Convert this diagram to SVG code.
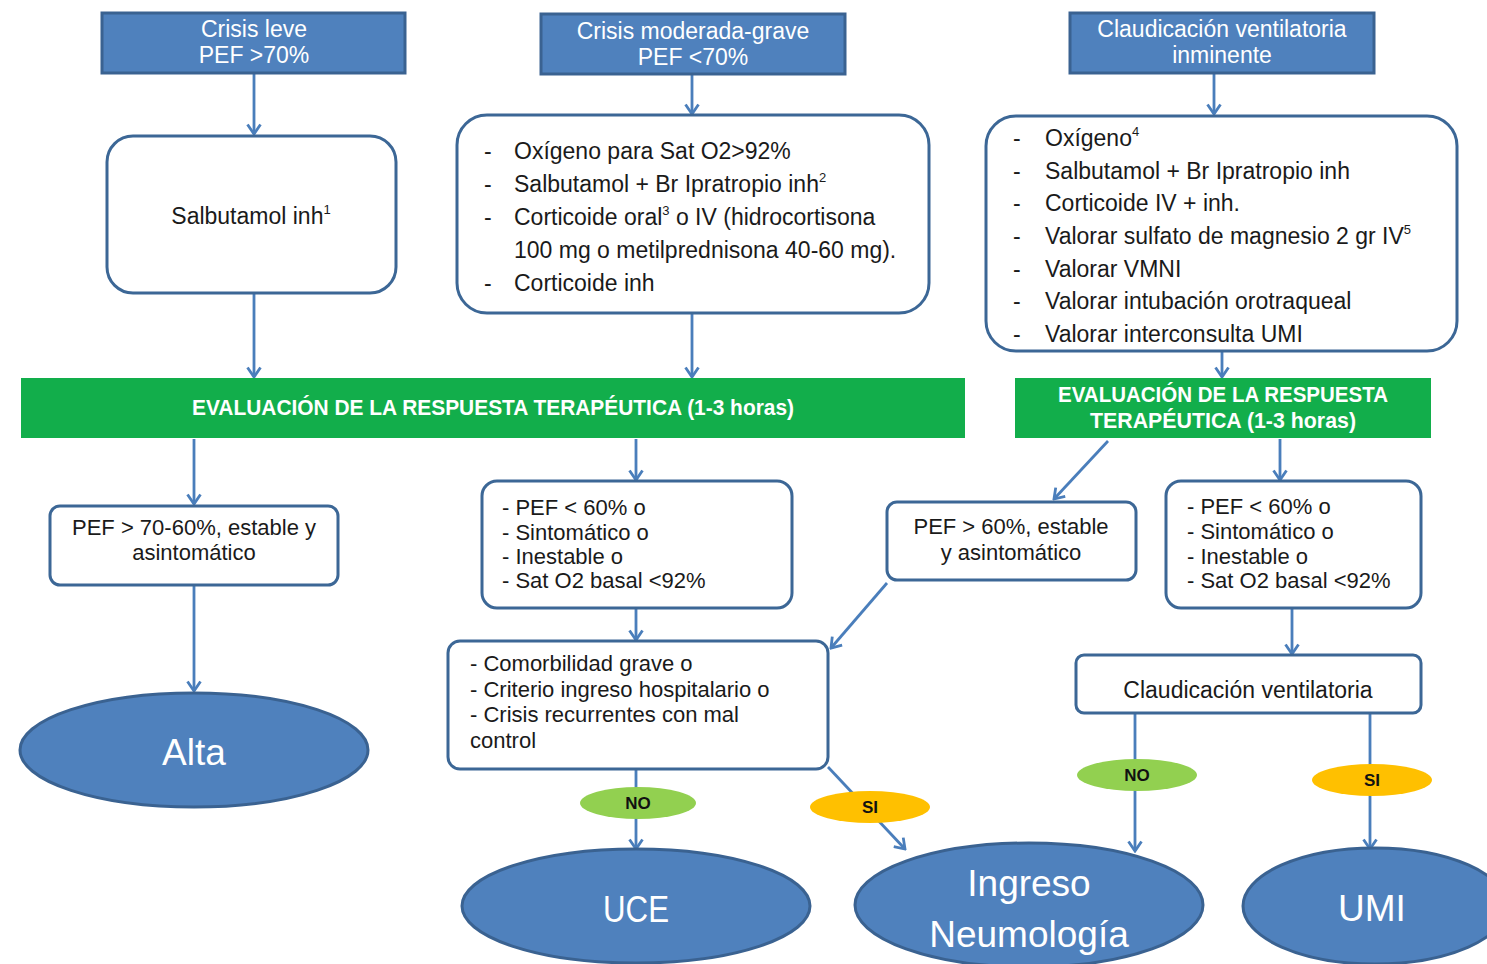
<svg xmlns="http://www.w3.org/2000/svg" width="1487" height="964" viewBox="0 0 1487 964">
<defs>
<marker id="arr" markerUnits="userSpaceOnUse" markerWidth="16" markerHeight="16" viewBox="0 0 16 16" refX="14" refY="8" orient="auto">
<path d="M4.5,1.5 L14,8 L4.5,14.5" fill="none" stroke="#4A7EBB" stroke-width="2.8" stroke-linejoin="miter"/>
</marker>
</defs>
<style>
text{font-family:"Liberation Sans",Arial,sans-serif;}
.hdr{fill:#4F81BD;stroke:#3A6291;stroke-width:3;}
.hdrt{fill:#ffffff;font-size:23px;text-anchor:middle;}
.box{fill:#ffffff;stroke:#3C6796;stroke-width:3;}
.bt{fill:#1a1a1a;font-size:22px;}
.bt23{fill:#1a1a1a;font-size:23px;}
.btc{fill:#1a1a1a;font-size:22px;text-anchor:middle;}
.green{fill:#12AE4B;}
.gt{fill:#ffffff;font-size:22px;font-weight:bold;text-anchor:middle;}
.ell{fill:#4F81BD;stroke:#3A6291;stroke-width:3;}
.et{fill:#ffffff;font-size:37px;text-anchor:middle;}
.no{fill:#92D050;}
.si{fill:#FFC000;}
.lt{fill:#111111;font-size:17px;font-weight:bold;text-anchor:middle;}
.conn{fill:none;stroke:#4A7EBB;stroke-width:2.8;marker-end:url(#arr);}
.sup{font-size:13px;}
</style>

<g id="connectors">
<line class="conn" x1="254" y1="73" x2="254" y2="134"/>
<line class="conn" x1="692" y1="74" x2="692" y2="114"/>
<line class="conn" x1="1214" y1="73" x2="1214" y2="114"/>
<line class="conn" x1="254" y1="293" x2="254" y2="377"/>
<line class="conn" x1="692" y1="313" x2="692" y2="377"/>
<line class="conn" x1="1222" y1="352" x2="1222" y2="377"/>
<line class="conn" x1="194" y1="439" x2="194" y2="504"/>
<line class="conn" x1="636" y1="439" x2="636" y2="480"/>
<line class="conn" x1="1108" y1="441" x2="1054" y2="499"/>
<line class="conn" x1="1280" y1="439" x2="1280" y2="480"/>
<line class="conn" x1="194" y1="585" x2="194" y2="691"/>
<line class="conn" x1="636" y1="608" x2="636" y2="640"/>
<line class="conn" x1="887" y1="583" x2="831" y2="648"/>
<line class="conn" x1="1292" y1="608" x2="1292" y2="654"/>
<line class="conn" x1="636" y1="769" x2="636" y2="849"/>
<line class="conn" x1="828" y1="767" x2="905" y2="849"/>
<line class="conn" x1="1135" y1="713" x2="1135" y2="851"/>
<line class="conn" x1="1370" y1="713" x2="1370" y2="849"/>
</g>

<g id="crisis-leve">
<rect class="hdr" x="102" y="13" width="303" height="60"/>
<text class="hdrt" x="254" y="37">Crisis leve</text>
<text class="hdrt" x="254" y="63">PEF &gt;70%</text>
</g>
<g id="crisis-moderada">
<rect class="hdr" x="541" y="14" width="304" height="60"/>
<text class="hdrt" x="693" y="39">Crisis moderada-grave</text>
<text class="hdrt" x="693" y="65">PEF &lt;70%</text>
</g>
<g id="claudicacion-inminente">
<rect class="hdr" x="1070" y="13" width="304" height="60"/>
<text class="hdrt" x="1222" y="37">Claudicación ventilatoria</text>
<text class="hdrt" x="1222" y="63">inminente</text>
</g>

<g id="salbutamol">
<rect class="box" x="107" y="136" width="289" height="157" rx="26"/>
<text class="btc" x="251" y="224" style="font-size:23px">Salbutamol inh<tspan class="sup" dy="-10">1</tspan></text>
</g>
<g id="tratamiento-moderada">
<rect class="box" x="457" y="115" width="472" height="198" rx="30"/>
<text class="bt23" x="484" y="159">-</text>
<text class="bt23" x="484" y="192">-</text>
<text class="bt23" x="484" y="225">-</text>
<text class="bt23" x="484" y="291">-</text>
<text class="bt23" x="514" y="159">Oxígeno para Sat O2&gt;92%</text>
<text class="bt23" x="514" y="192">Salbutamol + Br Ipratropio inh<tspan class="sup" dy="-10">2</tspan></text>
<text class="bt23" x="514" y="225">Corticoide oral<tspan class="sup" dy="-10">3</tspan><tspan dy="10"> o IV (hidrocortisona</tspan></text>
<text class="bt23" x="514" y="258">100 mg o metilprednisona 40-60 mg).</text>
<text class="bt23" x="514" y="291">Corticoide inh</text>
</g>
<g id="tratamiento-claudicacion">
<rect class="box" x="986" y="116" width="471" height="235" rx="30"/>
<text class="bt23" x="1013" y="146">-</text>
<text class="bt23" x="1013" y="179">-</text>
<text class="bt23" x="1013" y="211">-</text>
<text class="bt23" x="1013" y="244">-</text>
<text class="bt23" x="1013" y="277">-</text>
<text class="bt23" x="1013" y="309">-</text>
<text class="bt23" x="1013" y="342">-</text>
<text class="bt23" x="1045" y="146">Oxígeno<tspan class="sup" dy="-10">4</tspan></text>
<text class="bt23" x="1045" y="179">Salbutamol + Br Ipratropio inh</text>
<text class="bt23" x="1045" y="211">Corticoide IV + inh.</text>
<text class="bt23" x="1045" y="244">Valorar sulfato de magnesio 2 gr IV<tspan class="sup" dy="-10">5</tspan></text>
<text class="bt23" x="1045" y="277">Valorar VMNI</text>
<text class="bt23" x="1045" y="309">Valorar intubación orotraqueal</text>
<text class="bt23" x="1045" y="342">Valorar interconsulta UMI</text>
</g>

<g id="evaluacion-1">
<rect class="green" x="21" y="378" width="944" height="60"/>
<text class="gt" x="493" y="415" textLength="602" lengthAdjust="spacingAndGlyphs">EVALUACIÓN DE LA RESPUESTA TERAPÉUTICA (1-3 horas)</text>
</g>
<g id="evaluacion-2">
<rect class="green" x="1015" y="378" width="416" height="60"/>
<text class="gt" x="1223" y="402" textLength="330" lengthAdjust="spacingAndGlyphs">EVALUACIÓN DE LA RESPUESTA</text>
<text class="gt" x="1223" y="428" textLength="266" lengthAdjust="spacingAndGlyphs">TERAPÉUTICA (1-3 horas)</text>
</g>

<g id="estable-1">
<rect class="box" x="50" y="506" width="288" height="79" rx="10"/>
<text class="btc" x="194" y="535">PEF &gt; 70-60%, estable y</text>
<text class="btc" x="194" y="560">asintomático</text>
</g>
<g id="inestable-1">
<rect class="box" x="482" y="481" width="310" height="127" rx="15"/>
<text class="bt" x="502" y="515">- PEF &lt; 60% o</text>
<text class="bt" x="502" y="540">- Sintomático o</text>
<text class="bt" x="502" y="564">- Inestable o</text>
<text class="bt" x="502" y="588">- Sat O2 basal &lt;92%</text>
</g>
<g id="estable-2">
<rect class="box" x="887" y="502" width="249" height="78" rx="10"/>
<text class="btc" x="1011" y="534">PEF &gt; 60%, estable</text>
<text class="btc" x="1011" y="560">y asintomático</text>
</g>
<g id="inestable-2">
<rect class="box" x="1166" y="481" width="255" height="127" rx="15"/>
<text class="bt" x="1187" y="514">- PEF &lt; 60% o</text>
<text class="bt" x="1187" y="539">- Sintomático o</text>
<text class="bt" x="1187" y="564">- Inestable o</text>
<text class="bt" x="1187" y="588">- Sat O2 basal &lt;92%</text>
</g>

<g id="comorbilidad">
<rect class="box" x="448" y="641" width="380" height="128" rx="12"/>
<text class="bt" x="470" y="671">- Comorbilidad grave o</text>
<text class="bt" x="470" y="697">- Criterio ingreso hospitalario o</text>
<text class="bt" x="470" y="722">- Crisis recurrentes con mal</text>
<text class="bt" x="470" y="748">control</text>
</g>
<g id="claudicacion">
<rect class="box" x="1076" y="655" width="345" height="58" rx="8"/>
<text class="btc" x="1248" y="698" style="font-size:23px">Claudicación ventilatoria</text>
</g>

<g id="alta">
<ellipse class="ell" cx="194" cy="750" rx="174" ry="57"/>
<text class="et" x="194" y="765">Alta</text>
</g>
<g id="uce">
<ellipse class="ell" cx="636" cy="906" rx="174" ry="57"/>
<text class="et" x="636" y="922" textLength="66" lengthAdjust="spacingAndGlyphs">UCE</text>
</g>
<g id="ingreso">
<ellipse class="ell" cx="1029" cy="905" rx="174" ry="62"/>
<text class="et" x="1029" y="896">Ingreso</text>
<text class="et" x="1029" y="947">Neumología</text>
</g>
<g id="umi">
<ellipse class="ell" cx="1375" cy="906" rx="132" ry="58"/>
<text class="et" x="1372" y="921">UMI</text>
</g>

<g id="label-no-1">
<ellipse class="no" cx="638" cy="803" rx="58" ry="16"/>
<text class="lt" x="638" y="809">NO</text>
</g>
<g id="label-si-1">
<ellipse class="si" cx="870" cy="807" rx="60" ry="16"/>
<text class="lt" x="870" y="813">SI</text>
</g>
<g id="label-no-2">
<ellipse class="no" cx="1137" cy="775" rx="60" ry="16"/>
<text class="lt" x="1137" y="781">NO</text>
</g>
<g id="label-si-2">
<ellipse class="si" cx="1372" cy="780" rx="60" ry="16"/>
<text class="lt" x="1372" y="786">SI</text>
</g>
</svg>
